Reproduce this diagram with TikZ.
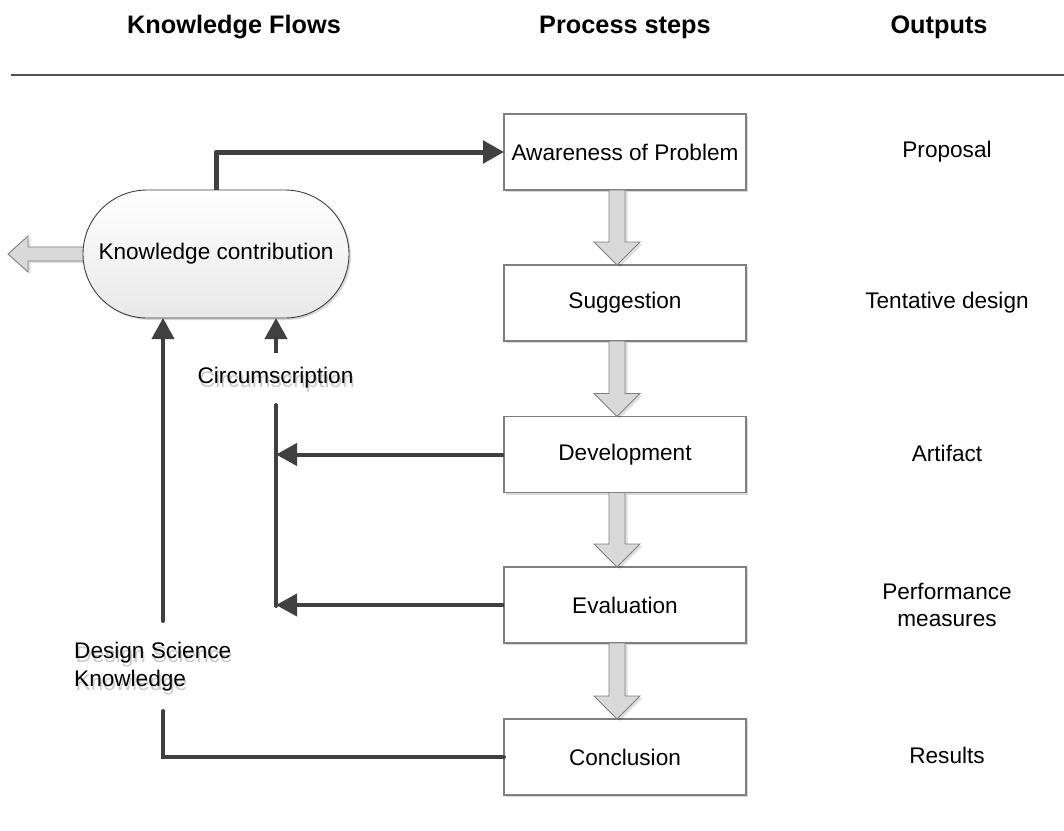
\documentclass[tikz,border=0pt]{standalone}
\usepackage{fontspec}
\setmainfont{Liberation Sans}
\usetikzlibrary{arrows.meta,shapes.misc,calc,shadows}

\definecolor{flowdark}{HTML}{404040}
\definecolor{boxedge}{HTML}{7F7F7F}
\definecolor{blockfill}{HTML}{D9D9D9}
\definecolor{rulecol}{HTML}{505050}

\tikzset{
  body/.style={font=\fontsize{22.6}{28}\selectfont},
  header/.style={font=\fontsize{25.3}{30}\selectfont\bfseries, anchor=base},
  stepbox/.style={draw=boxedge, line width=1.2pt, fill=white, rectangle,
    minimum width=242pt, minimum height=76pt, inner sep=0pt, outer sep=0pt,
    body, drop shadow={shadow xshift=2pt, shadow yshift=-2pt, opacity=0.15, fill=black}},
  contrib/.style={draw=flowdark, line width=0.9pt, rounded rectangle,
    minimum width=266pt, minimum height=128pt, inner sep=0pt, outer sep=0pt,
    top color=white, bottom color=black!9, body,
    drop shadow={shadow xshift=2pt, shadow yshift=-2pt, opacity=0.15, fill=black}},
  outlabel/.style={body, align=center},
  flow/.style={draw=flowdark, line width=4pt, line join=round,
    -{Triangle[length=21pt,width=22pt]}},
  flowthick/.style={flow, line width=5pt},
  plainflow/.style={draw=flowdark, line width=4pt, line join=miter},
  blockarrow/.style={draw=boxedge, line width=0.9pt, fill=blockfill, line join=miter,
    drop shadow={shadow xshift=2.5pt, shadow yshift=-2pt, opacity=0.12, fill=black}},
  shadowtext/.style={text=black!20},
}

\begin{document}
\begin{tikzpicture}[x=1pt, y=-1pt]
  \useasboundingbox (0,0) rectangle (1064,830);

  % column headings and rule
  \node[header] (hkf) at (234,33) {Knowledge Flows};
  \node[header] (hps) at (625,33) {Process steps};
  \node[header] (hout) at (939,33) {Outputs};
  \draw[rulecol, line width=2.5pt] (11,75) -- (1064,75);

  % process steps
  \node[stepbox] (aw)  at (625,152)   {Awareness of Problem};
  \node[stepbox] (sug) at (625,303)   {Suggestion};
  \node[stepbox] (dev) at (625,454.5) {Development};
  \node[stepbox] (eva) at (625,605)   {Evaluation};
  \node[stepbox] (con) at (625,757)   {Conclusion};

  % block arrows between consecutive steps
  \foreach \a/\b in {aw/sug, sug/dev, dev/eva, eva/con} {
    \draw[blockarrow]
      ($(\a.south)+(-16,0)$) -- ($(\a.south)+(0,0)$) --
      ($(\b.north)+(0,-23)$) -- ($(\b.north)+(15,-23)$) --
      ($(\b.north)+(-8,0)$) -- ($(\b.north)+(-31,-23)$) --
      ($(\b.north)+(-16,-23)$) -- cycle;
  }

  % knowledge contribution and its outgoing block arrow
  \coordinate (kcw) at (83,254);
  \draw[blockarrow]
    ($(kcw)+(2,-7)$) -- ($(kcw)+(-55,-7)$) -- ($(kcw)+(-55,-18)$) --
    ($(kcw)+(-75,0)$) -- ($(kcw)+(-55,18)$) -- ($(kcw)+(-55,7)$) --
    ($(kcw)+(2,7)$) -- cycle;
  \node[contrib] (kc) at (216,254) {Knowledge contribution};

  % outputs
  \node[outlabel] (o1) at (947,152) {Proposal};
  \node[outlabel] (o2) at (947,303) {Tentative design};
  \node[outlabel] (o3) at (947,453) {Artifact};
  \node[outlabel, font=\fontsize{22.6}{27}\selectfont] (o4) at (947,605) {Performance\\measures};
  \node[outlabel] (o5) at (947,755) {Results};

  % flow labels with soft shadow
  \node[body, shadowtext] at (277,381.5) {Circumscription};
  \node[body] (circ) at (275.5,378) {Circumscription};
  \node[body, align=left, anchor=west, inner sep=0pt, shadowtext] at (75.5,670.5) {Design Science\\Knowledge};
  \node[body, align=left, anchor=west, inner sep=0pt] (dsk) at (74,667) {Design Science\\Knowledge};

  % knowledge flows
  \draw[flowthick] (kc.north) |- (aw.west);

  \coordinate (circtop) at (276,353);
  \draw[flow] (circtop) -- (circtop |- kc.south);

  \coordinate (circlinetop) at (276,405);
  \coordinate (circlinebot) at (276,606);
  \draw[plainflow, line cap=round] (circlinetop) -- (circlinebot);
  \draw[flow] (dev.west) -- (dev.west -| circlinetop);
  \draw[flow] (eva.west) -- (eva.west -| circlinetop);

  \coordinate (dsktop) at (163,621);
  \draw[flow, line cap=round] (dsktop) -- (dsktop |- kc.south);

  \coordinate (dskbot) at (163,711);
  \draw[plainflow, line cap=round] (con.west) -| (dskbot);
\end{tikzpicture}
\end{document}
